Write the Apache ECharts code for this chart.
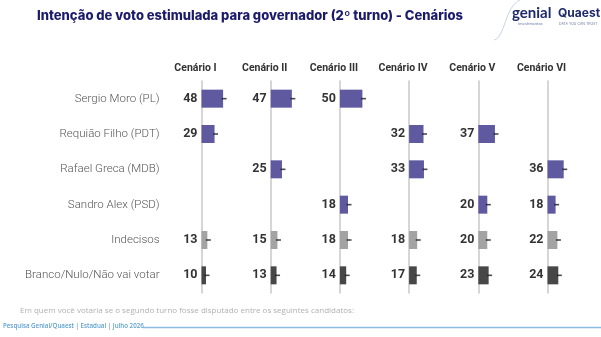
<!DOCTYPE html>
<html><head><meta charset="utf-8">
<script src="https://cdn.jsdelivr.net/npm/echarts@6/dist/echarts.min.js"></script>
<style>html,body{margin:0;padding:0;background:#fff}#c{width:601px;height:337px}</style>
</head><body><div id="c"></div>
<script>
const categories = ["Sergio Moro (PL)", "Requião Filho (PDT)", "Rafael Greca (MDB)", "Sandro Alex (PSD)", "Indecisos", "Branco/Nulo/Não vai votar"];
const scenarios = ["Cenário I", "Cenário II", "Cenário III", "Cenário IV", "Cenário V", "Cenário VI"];
const cenario1 = [48, 29, null, null, 13, 10];
const cenario2 = [47, null, 25, null, 15, 13];
const cenario3 = [50, null, null, 18, 18, 14];
const cenario4 = [null, 32, 33, null, 18, 17];
const cenario5 = [null, 37, null, 20, 20, 23];
const cenario6 = [null, null, 36, 18, 22, 24];
const allData = [cenario1, cenario2, cenario3, cenario4, cenario5, cenario6];

const rowColors = ["#5f59a0", "#5f59a0", "#5f59a0", "#5f59a0", "#a3a3a3", "#474747"];
const chart = echarts.init(document.getElementById('c'), null, {renderer: 'canvas'});
const grids = [], xAxes = [], yAxes = [], series = [], graphics = [];
const baseX = 201.5, step = 69.2;
allData.forEach((d, i) => {
  const left = baseX + i * step;
  grids.push({left: left, width: 45, top: 81, height: 212, containLabel: false});
  xAxes.push({type: 'value', gridIndex: i, min: 0, max: 100, show: false});
  yAxes.push({type: 'category', gridIndex: i, data: categories, inverse: true,
    axisLine: {show: true, lineStyle: {color: '#c9c9c9', width: 1.5}},
    axisTick: {show: false}, splitLine: {show: false},
    axisLabel: {show: i === 0, margin: 42, fontFamily: 'Roboto', fontWeight: 300, fontSize: 11.5, color: '#555'}});
  series.push({type: 'bar', xAxisIndex: i, yAxisIndex: i, barWidth: 18,
    data: d.map((v, k) => v == null ? null : {value: v, itemStyle: {color: rowColors[k]}}),
    label: {show: true, position: 'left', distance: 4, fontFamily: 'Roboto', fontWeight: 'bold', fontSize: 12.5, color: '#333'},
    animation: false, silent: true});
  series.push({type: 'scatter', xAxisIndex: i, yAxisIndex: i, symbol: 'rect', symbolSize: [5, 1.6], symbolOffset: [1, 0],
    itemStyle: {color: '#1e1e1e'}, z: 5, animation: false, silent: true,
    data: d.map((v, k) => v == null ? null : [v, k]).filter(x => x)});
  graphics.push({type: 'text', x: left - 6, y: 63, style: {text: scenarios[i], align: 'center', fill: '#333', font: 'bold 10.5px Roboto'}});
});

graphics.push(
  {type: 'text', x: 37, y: 10, style: {text: 'Intenção de voto estimulada para governador (2º turno) - Cenários', fill: '#1b1a6b', font: '800 13px Inter'}},
  {type: 'bezierCurve', shape: {x1: 520, y1: 0, x2: 494, y2: 40, cpx1: 505, cpy1: 6, cpx2: 505, cpy2: 38}, style: {stroke: '#c8d4e4', lineWidth: 1, fill: null}},
  {type: 'text', x: 512, y: 6, style: {text: 'genial', fill: '#1f2a6b', font: 'bold 15px Lato'}},
  {type: 'text', x: 518, y: 22, style: {text: 'investimentos', fill: '#6b7aa8', font: '4px Lato'}},
  {type: 'text', x: 558, y: 7, style: {text: 'Quaest', fill: '#1f2a6b', font: 'bold 12px Inter'}},
  {type: 'text', x: 559, y: 22, style: {text: 'DATA YOU CAN TRUST', fill: '#6b7aa8', font: '3.5px Inter'}},
  {type: 'text', x: 20, y: 307, style: {text: 'Em quem você votaria se o segundo turno fosse disputado entre os seguintes candidatos:', fill: '#b0b0b0', font: '8px "Open Sans"'}},
  {type: 'text', x: 3, y: 323, style: {text: 'Pesquisa Genial/Quaest | Estadual | Julho 2026', fill: '#5b9fd1', font: '600 6.2px "Open Sans"'}},
  {type: 'line', shape: {x1: 143, y1: 327.5, x2: 601, y2: 327.5}, style: {stroke: '#8cbde0', lineWidth: 1.3}}
);

chart.setOption({animation: false, grid: grids, xAxis: xAxes, yAxis: yAxes, series: series, graphic: graphics});
</script></body></html>
